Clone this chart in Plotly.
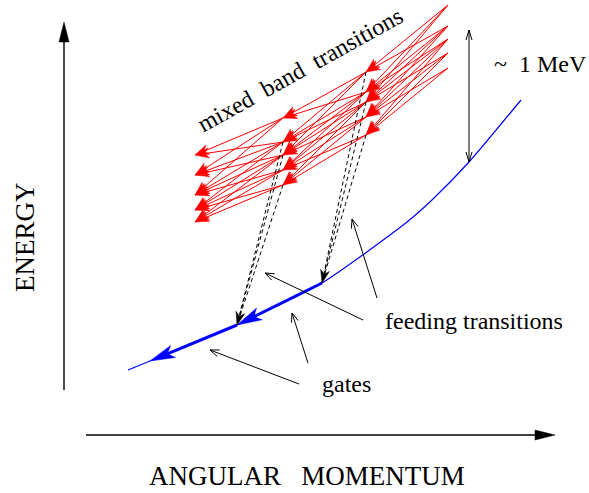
import numpy as np
import plotly.graph_objects as go

# ---------------- data (diagram units: x = spin, y = energy, screen-like, y downward) ----
col_spin = [195, 283, 366, 448]                 # spin of the four band "columns"
col0_energy = [155, 175, 195, 210, 222]
col1_energy = [118, 142, 155, 170, 185]
col2_energy = [72, 92, 102, 117, 135]
col3_energy = [5, 26, 39, 53, 68]
band_energy = [col0_energy, col1_energy, col2_energy, col3_energy]
# (level in upper column -> level in next lower column)
decay_pairs = [(0, 0), (0, 1), (0, 2), (1, 0), (1, 1), (1, 2), (2, 1), (2, 2), (2, 3),
               (2, 4), (3, 2), (3, 3), (3, 4), (4, 3), (4, 4), (1, 3)]

yrast_spin = [128, 150, 237, 322, 407, 433, 469, 521]
yrast_energy = [370, 361, 325, 283, 222, 199, 162, 100]
gate_steps = [(3, 2), (2, 1)]                    # yrast index from -> to

feed_cols = [2, 1]
feed_levels = [[0, 2, 4], [1, 2, 4]]
feed_targets = [3, 2]                            # yrast index

pointer_tail = [(377, 298), (363, 320), (308, 363), (299, 384)]
pointer_tip = [(352, 219), (265, 273), (292, 313), (210, 350)]

mev_spin = 469
mev_top = 30
mev_bottom = 162

axis_y_start, axis_y_end = (64, 390), (64, 22)
axis_x_start, axis_x_end = (86, 435), (555, 435)

label_text = ["mixed\u00a0\u00a0band\u00a0\u00a0transitions", "~\u00a0\u00a01 MeV",
              "feeding transitions", "gates", "ENERGY",
              "ANGULAR\u00a0\u00a0\u00a0MOMENTUM"]
label_x = [300, 540, 474, 346, 25, 307]
label_y = [70, 64, 321, 384, 237, 476]
label_angle = [-29, 0, 0, 0, -90, 0]
label_size = [24, 24, 24, 24, 27, 27]

W, H = 589, 493
FONT = "Liberation Serif"


def unit(a, b):
    dx, dy = b[0] - a[0], b[1] - a[1]
    n = np.hypot(dx, dy)
    return dx / n, dy / n


def head_poly(tail, tip, L, hw, notch):
    ux, uy = unit(tail, tip)
    px, py = -uy, ux
    bx, by = tip[0] - L * ux, tip[1] - L * uy
    xs = [tip[0], bx + hw * px, tip[0] - notch * L * ux, bx - hw * px, tip[0], None]
    ys = [tip[1], by + hw * py, tip[1] - notch * L * uy, by - hw * py, tip[1], None]
    return xs, ys, (tip[0] - notch * L * ux, tip[1] - notch * L * uy)


def open_head(tail, tip, L, hw):
    ux, uy = unit(tail, tip)
    px, py = -uy, ux
    bx, by = tip[0] - L * ux, tip[1] - L * uy
    return ([bx + hw * px, tip[0], bx - hw * px, None],
            [by + hw * py, tip[1], by - hw * py, None])


fig = go.Figure()


def add_lines(xs, ys, color, width, dash="solid"):
    fig.add_trace(go.Scatter(x=xs, y=ys, mode="lines",
                             line=dict(color=color, width=width, dash=dash),
                             hoverinfo="skip", showlegend=False))


def add_fill(xs, ys, color):
    fig.add_trace(go.Scatter(x=xs, y=ys, mode="lines", fill="toself",
                             fillcolor=color, line=dict(color=color, width=0.5),
                             hoverinfo="skip", showlegend=False))


# ---- red mixed band transitions ----
rlx, rly, rhx, rhy = [], [], [], []
for c in range(3, 0, -1):
    for i, j in decay_pairs:
        tail = (col_spin[c], band_energy[c][i])
        tip = (col_spin[c - 1], band_energy[c - 1][j])
        hx, hy, notch = head_poly(tail, tip, 14, 5, 0.7)
        rlx += [tail[0], notch[0], None]
        rly += [tail[1], notch[1], None]
        rhx += hx
        rhy += hy
add_lines(rlx, rly, "#ff0000", 1)
add_fill(rhx, rhy, "#ff0000")

# ---- yrast line ----
fig.add_trace(go.Scatter(x=yrast_spin, y=yrast_energy, mode="lines",
                         line=dict(color="#0000ff", width=1.2, shape="spline", smoothing=0.6),
                         hoverinfo="skip", showlegend=False))

# ---- gates (thick blue) ----
gx, gy, ghx, ghy = [], [], [], []
for a, b in gate_steps:
    tail = (yrast_spin[a], yrast_energy[a])
    tip = (yrast_spin[b], yrast_energy[b])
    hx, hy, notch = head_poly(tail, tip, 25, 6.5, 0.75)
    gx += [tail[0], notch[0], None]
    gy += [tail[1], notch[1], None]
    ghx += hx
    ghy += hy
add_lines(gx, gy, "#0000ff", 3)
add_fill(ghx, ghy, "#0000ff")

# ---- feeding transitions (dashed black) ----
fx, fy, fhx, fhy = [], [], [], []
for c, levels, t in zip(feed_cols, feed_levels, feed_targets):
    tip = (yrast_spin[t], yrast_energy[t])
    for i in levels:
        tail = (col_spin[c], band_energy[c][i])
        fx += [tail[0], tip[0], None]
        fy += [tail[1], tip[1], None]
    mid_tail = (col_spin[c], band_energy[c][levels[1]])
    hx, hy, _ = head_poly(mid_tail, tip, 13, 4.5, 0.7)
    fhx += hx
    fhy += hy
add_lines(fx, fy, "black", 1, dash="4px,3px")
add_fill(fhx, fhy, "black")

# ---- pointer arrows ----
px_, py_ = [], []
for tail, tip in zip(pointer_tail, pointer_tip):
    px_ += [tail[0], tip[0], None]
    py_ += [tail[1], tip[1], None]
    hx, hy = open_head(tail, tip, 9, 3.5)
    px_ += hx
    py_ += hy
# ~1 MeV double arrow
top = (mev_spin, mev_top)
bot = (mev_spin, mev_bottom)
px_ += [top[0], bot[0], None]
py_ += [top[1], bot[1], None]
for tail, tip in [(bot, top), (top, bot)]:
    hx, hy = open_head(tail, tip, 10, 3)
    px_ += hx
    py_ += hy
add_lines(px_, py_, "black", 1)

# ---- axes ----
ax_x, ax_y, ahx, ahy = [], [], [], []
for s, e in [(axis_y_start, axis_y_end), (axis_x_start, axis_x_end)]:
    hx, hy, notch = head_poly(s, e, 20, 5, 1.0)
    ax_x += [s[0], notch[0], None]
    ax_y += [s[1], notch[1], None]
    ahx += hx
    ahy += hy
add_lines(ax_x, ax_y, "black", 1.4)
add_fill(ahx, ahy, "black")

# ---- labels ----
for t, x, y, a, s in zip(label_text, label_x, label_y, label_angle, label_size):
    fig.add_annotation(x=x, y=y, text=t, textangle=a, showarrow=False,
                       xanchor="center", yanchor="middle",
                       font=dict(family=FONT, size=s, color="black"))

fig.update_layout(width=W, height=H, margin=dict(l=0, r=0, t=0, b=0),
                  paper_bgcolor="white", plot_bgcolor="white",
                  xaxis=dict(range=[0, W], visible=False, fixedrange=True),
                  yaxis=dict(range=[H, 0], visible=False, fixedrange=True))

fig.write_html("out.html")
